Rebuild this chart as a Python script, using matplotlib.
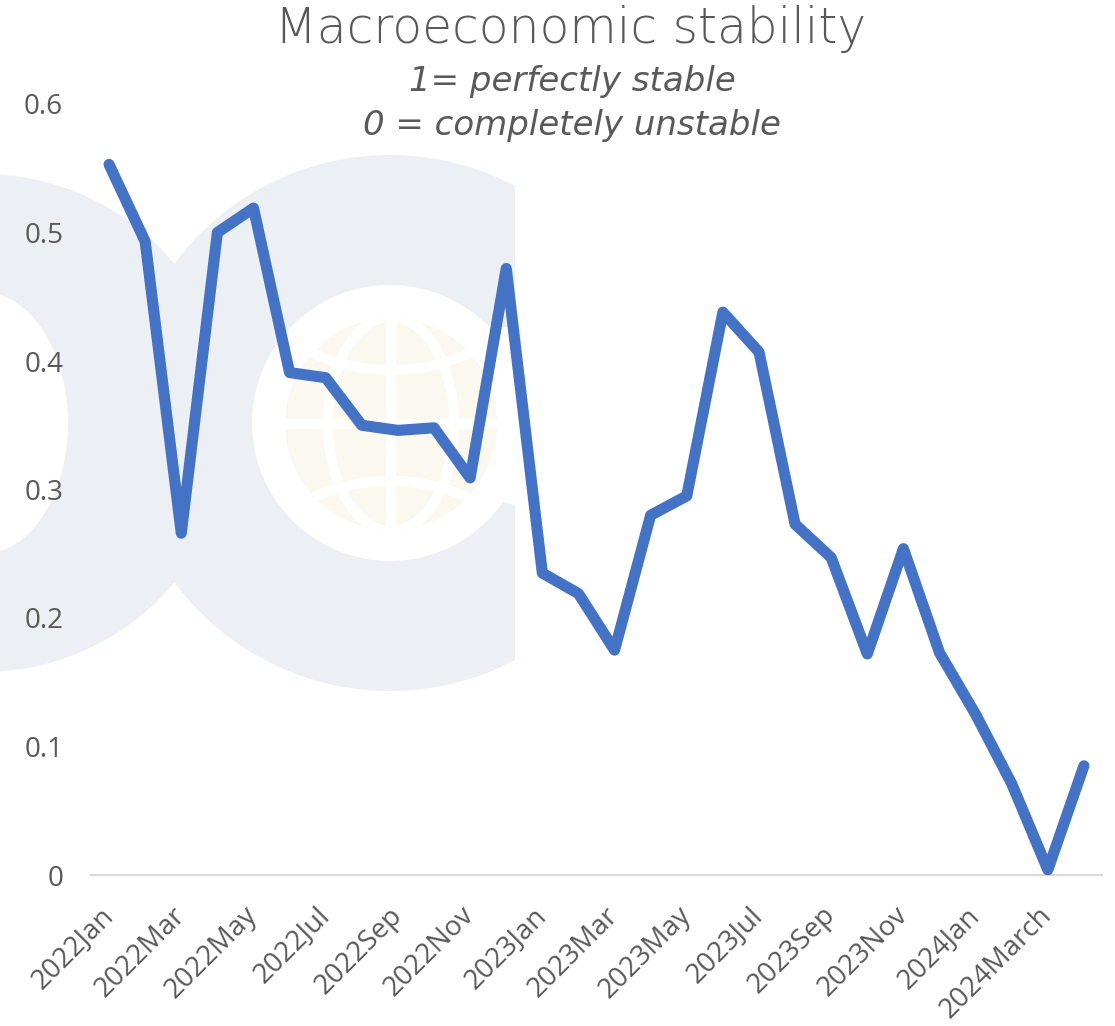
import numpy as np
import matplotlib
matplotlib.use("Agg")
import matplotlib.pyplot as plt
from matplotlib.transforms import Affine2D
from matplotlib.patches import Circle, Ellipse, Rectangle, Polygon
from matplotlib.lines import Line2D

# ---------------- data ----------------
months = ["2022Jan", "2022Feb", "2022Mar", "2022Apr", "2022May", "2022Jun",
          "2022Jul", "2022Aug", "2022Sep", "2022Oct", "2022Nov", "2022Dec",
          "2023Jan", "2023Feb", "2023Mar", "2023Apr", "2023May", "2023Jun",
          "2023Jul", "2023Aug", "2023Sep", "2023Oct", "2023Nov", "2023Dec",
          "2024Jan", "2024Feb", "2024March", "2024April"]
stability = [0.553, 0.493, 0.266, 0.500, 0.519, 0.391, 0.387, 0.350, 0.346,
             0.348, 0.309, 0.472, 0.235, 0.219, 0.175, 0.280, 0.295, 0.438,
             0.407, 0.273, 0.247, 0.172, 0.254, 0.173, 0.125, 0.071, 0.004,
             0.085]
y_ticks = [0, 0.1, 0.2, 0.3, 0.4, 0.5, 0.6]
y_tick_labels = ["0", "0.1", "0.2", "0.3", "0.4", "0.5", "0.6"]

title = "Macroeconomic stability"
subtitle1 = "1= perfectly stable"
subtitle2 = "0 = completely unstable"

# ---------------- figure ----------------
W, H = 1115, 1026
fig = plt.figure(figsize=(W / 100, H / 100), dpi=100)
fig.patch.set_facecolor("white")
pix = Affine2D().scale(1 / W, -1 / H).translate(0, 1) + fig.transFigure

GREY = "#ECEFF3"
CREAM = "#FAF8EF"
TXT = "#595959"

# ---- faint background logo (decoration) ----
z = -5
left_ring = Circle((-17, 423), 249, transform=pix, color=GREY, zorder=z, lw=0)
fig.add_artist(left_ring)
c_outer = Circle((390, 423), 268, transform=pix, color=GREY, zorder=z, lw=0)
clip_rect = Rectangle((0, 0), 515, H, transform=pix)
c_outer.set_clip_path(clip_rect)
fig.add_artist(c_outer)
th = np.radians(np.linspace(45, 325, 120))
pts = [(390 + 138 * np.cos(t), 423 - 138 * np.sin(t)) for t in th]
pts += [(525, 507), (525, 329)]
fig.add_artist(Polygon(pts, closed=True, transform=pix, color="white", zorder=z, lw=0))
fig.add_artist(Ellipse((-17, 423), 170, 262, transform=pix, color="white", zorder=z, lw=0))
globe = Circle((391, 424), 106, transform=pix, color=CREAM, zorder=z, lw=0)
fig.add_artist(globe)
wl = 7.2
gl = []
gl.append(Line2D([391, 391], [310, 540], transform=pix, color="white", lw=wl, zorder=z))
gl.append(Line2D([280, 500], [424, 424], transform=pix, color="white", lw=wl, zorder=z))
gl.append(Ellipse((391, 424), 126, 214, transform=pix, fill=False, ec="white", lw=wl, zorder=z))
dx = np.linspace(-115, 115, 60)
gl.append(Line2D(391 + dx, 370 - 0.0027 * dx ** 2, transform=pix, color="white", lw=wl, zorder=z))
gl.append(Line2D(391 + dx, 481 + 0.0027 * dx ** 2, transform=pix, color="white", lw=wl, zorder=z))
for a in gl:
    a.set_clip_path(globe)
    fig.add_artist(a)

# ---------------- axes ----------------
ax = fig.add_axes([91 / W, 1 - 875 / H, (1102 - 91) / W, (875 - 104) / H])
ax.set_facecolor("none")
x = np.arange(len(months))
ax.plot(x, stability, color="#4472C4", lw=8, solid_joinstyle="round",
        solid_capstyle="round", zorder=3)
ax.set_xlim(-0.5, len(months) - 0.5)
ax.set_ylim(0, 0.6)
ax.set_yticks(y_ticks)
ax.set_yticklabels(y_tick_labels)
ax.set_xticks(x[::2])
ax.set_xticklabels(months[::2], rotation=45, ha="right", va="center",
                   rotation_mode="anchor")
for s in ["top", "right", "left"]:
    ax.spines[s].set_visible(False)
ax.spines["bottom"].set_color("#D9D9D9")
ax.spines["bottom"].set_linewidth(1.5)
ax.spines["bottom"].set_zorder(1)
ax.tick_params(axis="y", length=0, pad=20, labelsize=20, labelcolor=TXT)
ax.tick_params(axis="x", length=0, pad=26, labelsize=20, labelcolor=TXT)
for lab in ax.get_xticklabels() + ax.get_yticklabels():
    lab.set_family(["Open Sans", "DejaVu Sans"])

fig.text(0.512, 1 - 29 / H, title, ha="center", va="center", fontsize=35,
         color=TXT, family=["DejaVu Sans"], fontweight="light")
fig.text(0.513, 1 - 81 / H, subtitle1, ha="center", va="center", fontsize=24.5,
         color=TXT, family=["DejaVu Sans"], style="italic")
fig.text(0.513, 1 - 126 / H, subtitle2, ha="center", va="center", fontsize=24.5,
         color=TXT, family=["DejaVu Sans"], style="italic")

fig.savefig("out.png", dpi=100)
